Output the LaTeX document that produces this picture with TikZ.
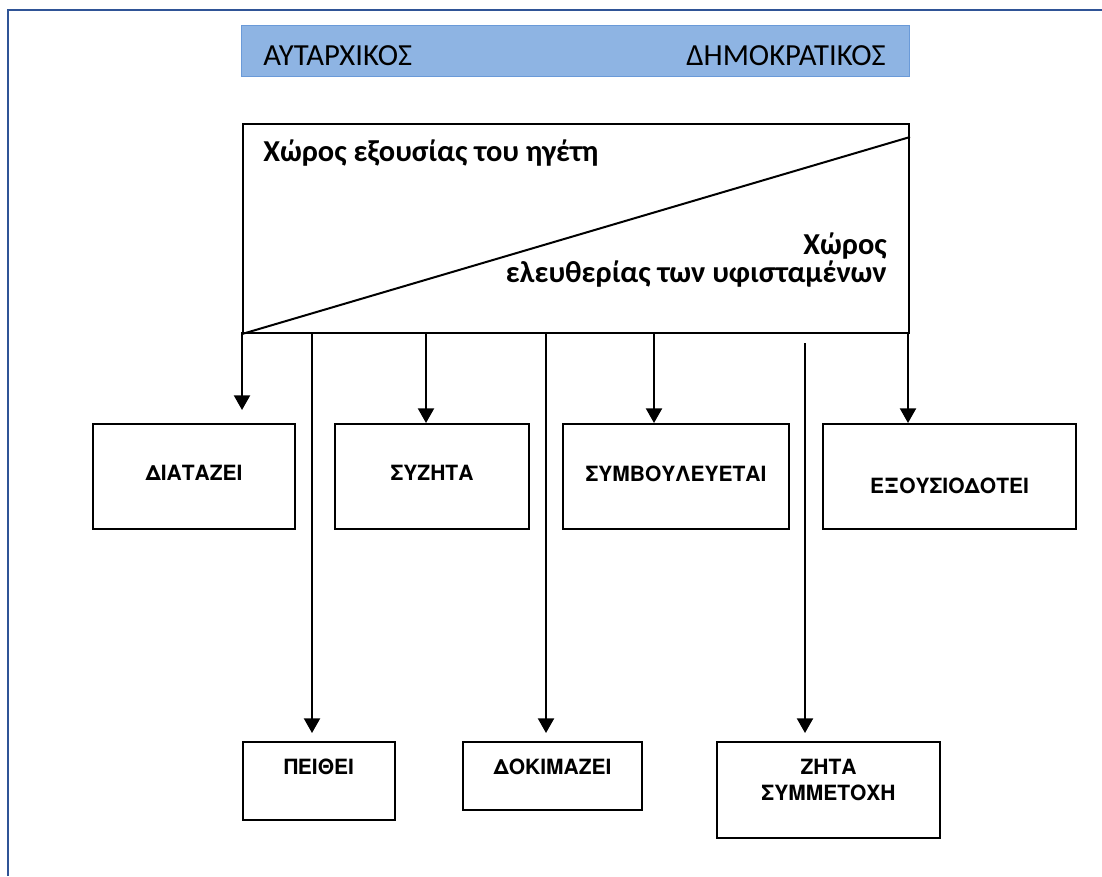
\documentclass[tikz,border=0pt]{standalone}
\usepackage{fontspec}
\usepackage{xcolor}
\usepackage{tikz}
\usetikzlibrary{arrows.meta}
\setmainfont{Carlito}
\newfontfamily\arialfam{TeX Gyre Heros}
\definecolor{frameblue}{HTML}{2F5496}
\definecolor{barfill}{HTML}{8EB4E3}
\definecolor{barline}{HTML}{6A9AD8}
\newcommand\barfont{\fontsize{23}{27}\selectfont}
\newcommand\spacefont{\bfseries\fontsize{22.8}{21}\selectfont}
\newcommand\actfont{\arialfam\bfseries\fontsize{15.75}{19.5}\selectfont}
\tikzset{
  actbox/.style={draw, line width=1.5pt, inner sep=0pt, align=center, font=\actfont},
  arr/.style={line width=1.6pt, -{Triangle[length=11pt,width=12pt]}},
  bartext/.style={inner sep=0pt, font=\barfont}
}

\begin{document}
\begin{tikzpicture}[x=0.75pt, y=-0.75pt]
      \useasboundingbox (0,0) rectangle (1102,876);
      % page frame
      \draw[frameblue, line width=1.5pt] (8,876) -- (8,10) -- (1102,10);
      % scale bar
      \node[fill=barfill, draw=barline, line width=0.8pt, anchor=north west,
        minimum width=501pt, minimum height=38.25pt] (bar) at (241,25) {};
      \node[bartext, anchor=base west] (autoc) at (263,65) {ΑΥΤΑΡΧΙΚΟΣ};
      \node[bartext, anchor=base east] (democ) at (886,65) {ΔΗΜΟΚΡΑΤΙΚΟΣ};
      % leader / subordinates space
      \node[draw, line width=1.5pt, anchor=north west,
        minimum width=499.5pt, minimum height=156.75pt] (space) at (242,123) {};
      \draw[line width=1.5pt] (space.south west) -- ([yshift=-10.5pt]space.north east);
      \node[inner sep=0pt, anchor=base west, font=\spacefont] (leaderTxt)
        at (263,161) {Χώρος εξουσίας του ηγέτη};
      \node[inner sep=0pt, anchor=base east, align=right, font=\spacefont] (freeTxt)
        at (887,282) {Χώρος\\ελευθερίας των υφισταμένων};
      % action boxes
      \foreach \nm/\lx/\ty/\rx/\by/\bl/\txt in {%
        diataz/92/423/294/528/479/{ΔΙΑΤΑΖΕΙ}, syzita/334/423/528/528/479/{ΣΥΖΗΤΑ},
        symvoul/562/423/788/528/480/{ΣΥΜΒΟΥΛΕΥΕΤΑΙ}, exous/822/423/1075/528/492/{ΕΞΟΥΣΙΟΔΟΤΕΙ},
        peith/242/741/394/819/773/{ΠΕΙΘΕΙ}, dokim/462/741/641/809/773/{ΔΟΚΙΜΑΖΕΙ},
        zita/716/741/939/837/773/{ΖΗΤΑ\\ΣΥΜΜΕΤΟΧΗ}} {
        \pgfmathsetmacro\bw{(\rx-\lx)*0.75}
        \pgfmathsetmacro\th{(\bl-\ty)*0.75}
        \pgfmathsetmacro\td{(\by-\bl)*0.75}
        \node[actbox, anchor=north west, text width=\bw pt,
          text height=\th pt, text depth=\td pt] (\nm) at (\lx,\ty) {\txt};
      }
      % connectors
      \foreach[count=\i] \x/\ys/\tg/\gap in {%
        242/332/diataz/9.75, 312/332/peith/6, 426/332/syzita/0, 546/332/dokim/6,
        654/332/symvoul/0, 805/343/zita/6, 908/332/exous/0} {
        \coordinate (a\i) at (\x,\ys);
        \draw[arr, shorten >=\gap pt] (a\i) -- (a\i |- \tg.north);
      }
    \end{tikzpicture}
\end{document}
